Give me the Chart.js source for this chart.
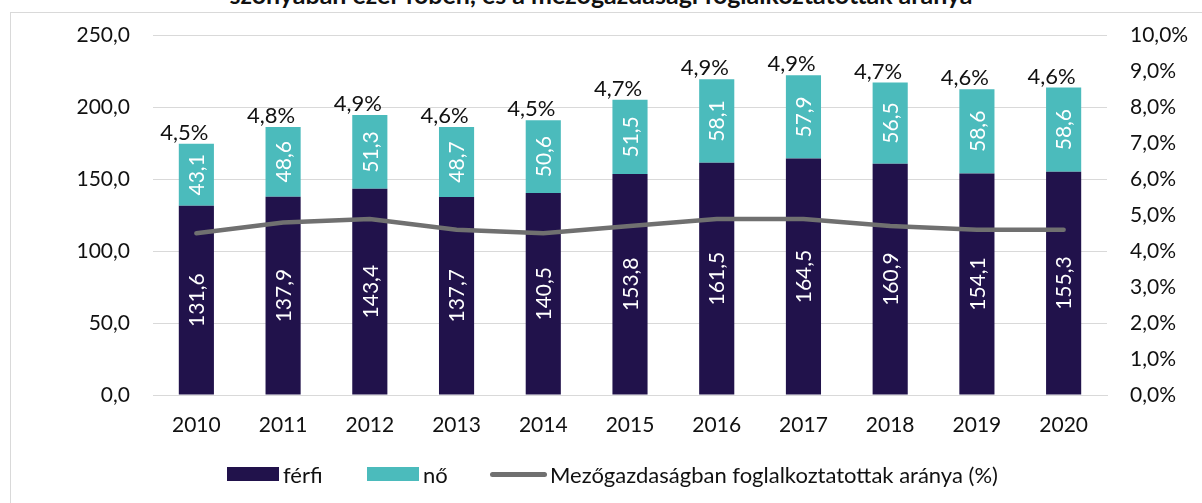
<!DOCTYPE html>
<html>
<head>
<meta charset="utf-8">
<script src="https://cdn.jsdelivr.net/npm/chart.js@4"></script>
<style>
  body { margin: 0; background: #fff; font-family: Lato, 'Noto Sans', sans-serif; }
  #wrap { position: relative; width: 1202px; height: 503px; overflow: hidden; }
  #frame { position: absolute; left: 10px; top: 12px; width: 1300px; height: 600px; border: 1px solid #d9d9d9; }
  #title { position: absolute; left: 0; width: 1202px; top: -21px; text-align: center; font-weight: bold; font-size: 25px; color: #111; }
  #chart { position: absolute; left: 0; top: 0; }
  #legend { position: absolute; top: 460px; left: 0; width: 1202px; height: 30px; font-size: 22px; color: #111; }
  #legend .item { position: absolute; top: 0; height: 28px; display: flex; align-items: center; }
  #legend .sw { display: inline-block; width: 52px; height: 14px; margin-right: 4px; }
  #legend .ln { display: inline-block; width: 57px; height: 5px; border-radius: 3px; margin-right: 3px; }
</style>
</head>
<body>
<div id="wrap">
  <div id="frame"></div>
  <div id="title">szonyában ezer főben, és a mezőgazdasági foglalkoztatottak aránya</div>
  <canvas id="chart" width="1202" height="503"></canvas>
  <div id="legend"></div>
</div>
<script>
const years = ['2010', '2011', '2012', '2013', '2014', '2015', '2016', '2017', '2018', '2019', '2020'];
const ferfi = [131.6, 137.9, 143.4, 137.7, 140.5, 153.8, 161.5, 164.5, 160.9, 154.1, 155.3];
const no = [43.1, 48.6, 51.3, 48.7, 50.6, 51.5, 58.1, 57.9, 56.5, 58.6, 58.6];
const arany = [4.5, 4.8, 4.9, 4.6, 4.5, 4.7, 4.9, 4.9, 4.7, 4.6, 4.6];

const navy = '#21124b';
const teal = '#4bbbbc';
const grey = '#707070';
const font = 'Lato, "Noto Sans", sans-serif';

const fmt = (v, d) => v.toFixed(d).replace('.', ',');

// feliratok: oszlopokon belül forgatva, arány az oszlop tetején (kicsit balra tolva)
const labelPlugin = {
  id: 'labels',
  afterDatasetsDraw(chart) {
    const ctx = chart.ctx;
    ctx.save();
    ctx.font = '21px ' + font;
    [0, 1].forEach(di => {
      const meta = chart.getDatasetMeta(di);
      meta.data.forEach((bar, i) => {
        const v = chart.data.datasets[di].data[i];
        const cy = (bar.y + bar.base) / 2;
        ctx.save();
        ctx.translate(bar.x, cy);
        ctx.rotate(-Math.PI / 2);
        ctx.fillStyle = '#fff';
        ctx.textAlign = 'center';
        ctx.textBaseline = 'middle';
        ctx.fillText(fmt(v, 1), 0, 1);
        ctx.restore();
      });
    });
    const top = chart.getDatasetMeta(1);
    ctx.font = '22px ' + font;
    ctx.fillStyle = '#111';
    ctx.textAlign = 'center';
    ctx.textBaseline = 'bottom';
    top.data.forEach((bar, i) => {
      ctx.fillText(fmt(arany[i], 1) + '%', bar.x - 12, bar.y);
    });
    ctx.restore();
  }
};

new Chart(document.getElementById('chart'), {
  type: 'bar',
  data: {
    labels: years,
    datasets: [
      { label: 'férfi', data: ferfi, backgroundColor: navy, stack: 's', yAxisID: 'y', order: 2 },
      { label: 'nő', data: no, backgroundColor: teal, stack: 's', yAxisID: 'y', order: 2 },
      { type: 'line', label: 'Mezőgazdaságban foglalkoztatottak aránya (%)', data: arany, yAxisID: 'y1',
        borderColor: grey, borderWidth: 4.5, pointRadius: 0, tension: 0, order: 1, borderCapStyle: 'round' }
    ]
  },
  options: {
    responsive: false,
    animation: false,
    layout: { padding: { top: 25, bottom: 68 } },
    plugins: { legend: { display: false }, tooltip: { enabled: false } },
    datasets: { bar: { categoryPercentage: 0.81, barPercentage: 0.5 } },
    scales: {
      x: {
        stacked: true,
        grid: { display: false },
        border: { color: '#d9d9d9', width: 1 },
        ticks: { color: '#111', font: { size: 21, family: font }, padding: 10 },
        afterFit: a => { a.height = 40; }
      },
      y: {
        stacked: true, min: 0, max: 250,
        grid: { color: '#d9d9d9', drawTicks: false },
        border: { display: false },
        ticks: { stepSize: 50, color: '#111', font: { size: 21, family: font }, padding: 23, callback: v => fmt(v, 1) },
        afterFit: a => { a.width = 153; }
      },
      y1: {
        position: 'right', min: 0, max: 10,
        grid: { display: false, drawTicks: false },
        border: { display: false },
        ticks: { stepSize: 1, color: '#111', font: { size: 21, family: font }, padding: 23, callback: v => fmt(v, 1) + '%' },
        afterFit: a => { a.width = 95; }
      }
    }
  },
  plugins: [labelPlugin]
});

const legend = document.getElementById('legend');
legend.innerHTML =
  '<span class="item" style="left:227px"><span class="sw" style="background:' + navy + '"></span>férfi</span>' +
  '<span class="item" style="left:367px"><span class="sw" style="background:' + teal + '"></span>nő</span>' +
  '<span class="item" style="left:490px"><span class="ln" style="background:' + grey + '"></span>Mezőgazdaságban foglalkoztatottak aránya (%)</span>';
</script>
</body>
</html>
